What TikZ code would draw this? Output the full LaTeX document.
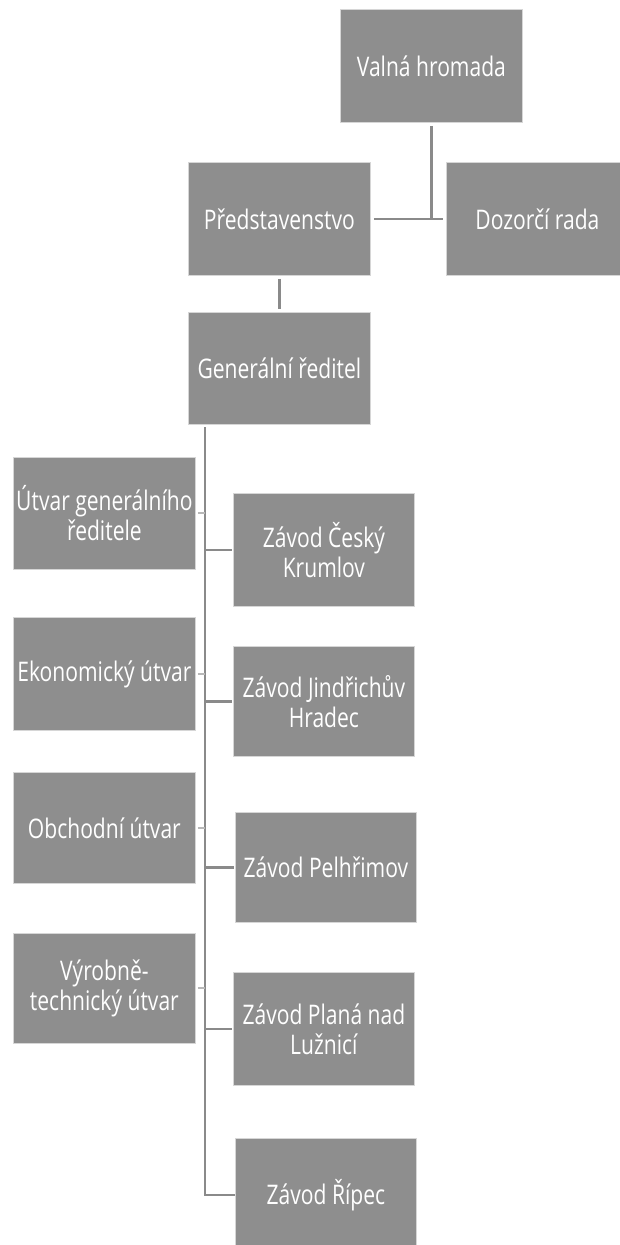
\documentclass[tikz,border=0pt]{standalone}
\usepackage{fontspec}
\setmainfont{Open Sans}[FakeStretch=0.78]
\definecolor{boxgray}{HTML}{8E8E8E}
\definecolor{linegray}{HTML}{8A8A8A}
\definecolor{tickgray}{HTML}{B8B8B8}
\definecolor{edgegray}{HTML}{D6D6D6}
\begin{document}
\begin{tikzpicture}[x=1pt,y=-1pt,
  orgbox/.style={anchor=north west, fill=boxgray, draw=edgegray, line width=0.8pt,
    minimum width=182pt, minimum height=113pt, inner sep=0pt, align=center,
    text=white, font=\fontsize{27}{30}\selectfont},
  conn/.style={draw=linegray, line width=2.6pt},
  tick/.style={draw=tickgray, line width=2pt}]
\useasboundingbox (0,0) rectangle (619,1245);
\fill[white] (0,0) rectangle (619,1245);
\node[orgbox] (vh) at (340,9) {Valná hromada};
\node[orgbox] (pred) at (188,162) {Představenstvo};
\node[orgbox] (doz) at (446,162) {Dozorčí rada};
\node[orgbox, minimum height=112pt] (gr) at (188,312) {Generální ředitel};
\node[orgbox, minimum height=112pt] (utvar) at (13,457) {Útvar generálního\\ředitele};
\node[orgbox] (ekon) at (13,617) {Ekonomický útvar};
\node[orgbox, minimum height=111pt] (obch) at (13,772) {Obchodní útvar};
\node[orgbox, minimum height=110pt] (vyr) at (13,933) {Výrobně-\\technický útvar};
\node[orgbox, minimum width=181pt] (krum) at (233,493) {Závod Český\\Krumlov};
\node[orgbox, minimum width=181pt, minimum height=110pt] (jind) at (233,646) {Závod Jindřichův\\Hradec};
\node[orgbox, minimum width=181pt, minimum height=110pt] (pelh) at (235,812) {Závod Pelhřimov};
\node[orgbox, minimum width=181pt] (plana) at (233,972) {Závod Planá nad\\Lužnicí};
\node[orgbox, minimum width=181pt] (ripec) at (235,1138) {Závod Řípec};
% top connectors
\coordinate (junc) at (vh.south |- pred.east);
\draw[conn, shorten <=3pt] (vh.south) -- (junc);
\draw[conn, shorten <=3pt, shorten >=3pt] (pred.east) -- (doz.west);
\draw[conn, shorten <=3pt, shorten >=3pt] (pred.south) -- (gr.north);
% spine
\coordinate (s0) at (205,428);
\draw[conn, line cap=rect] (s0) |- ([xshift=-1pt]ripec.west);
\draw[conn] (s0 |- krum.west) -- ([xshift=-1pt]krum.west);
\draw[conn] (s0 |- jind.west) -- ([xshift=-1pt]jind.west);
\draw[conn] (s0 |- pelh.west) -- ([xshift=-1pt]pelh.west);
\draw[conn] (s0 |- plana.west) -- ([xshift=-1pt]plana.west);
% left ticks
\draw[tick] ([xshift=2pt]utvar.east) -- (utvar.east -| s0);
\draw[tick] ([xshift=2pt]ekon.east) -- (ekon.east -| s0);
\draw[tick] ([xshift=2pt]obch.east) -- (obch.east -| s0);
\draw[tick] ([xshift=2pt]vyr.east) -- (vyr.east -| s0);
\end{tikzpicture}
\end{document}
